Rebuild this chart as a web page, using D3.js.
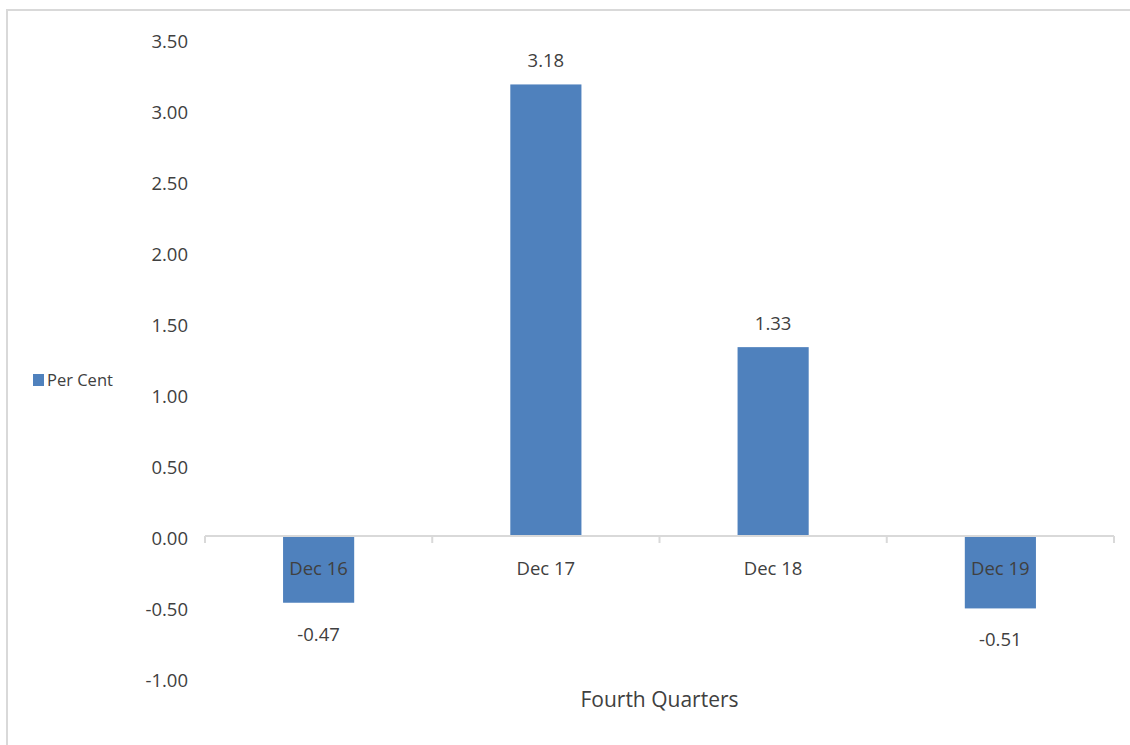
<!DOCTYPE html>
<html>
<head>
<meta charset="utf-8">
<script src="https://cdn.jsdelivr.net/npm/d3@7/dist/d3.min.js"></script>
<style>
  html, body { margin: 0; padding: 0; background: #fff; }
  svg { display: block; font-family: "Open Sans", sans-serif; }
  text { fill: #404040; }
</style>
</head>
<body>
<svg id="chart" width="1130" height="745"></svg>
<script>
const categories = ['Dec 16', 'Dec 17', 'Dec 18', 'Dec 19'];
const values = [-0.47, 3.18, 1.33, -0.51];
const yTicks = [-1, -0.5, 0, 0.5, 1, 1.5, 2, 2.5, 3, 3.5];
const seriesName = 'Per Cent';
const xTitle = 'Fourth Quarters';

const barColor = '#4f81bd';
const svg = d3.select('#chart');

// plain hyphen for negatives, like the source
const fmt = d3.formatLocale({ decimal: '.', thousands: ',', grouping: [3], currency: ['', ''], minus: '-' }).format('.2f');

// chart frame, runs past the right and bottom edges like the source image
svg.append('rect')
  .attr('x', 7).attr('y', 10)
  .attr('width', 1200).attr('height', 800)
  .attr('fill', 'none')
  .attr('stroke', '#d9d9d9')
  .attr('stroke-width', 2);

const plot = { left: 205, right: 1114 };

const x = d3.scaleBand()
  .domain(categories)
  .range([plot.left, plot.right])
  .paddingInner(0.687)
  .paddingOuter(0.687 / 2);

const y = d3.scaleLinear()
  .domain([-1, 3.5])
  .range([678, 39]);

// y tick labels (no axis line, no tick marks)
const yAxis = svg.append('g')
  .attr('transform', `translate(${plot.left - 17},3)`)
  .call(d3.axisLeft(y).tickValues(yTicks).tickFormat(fmt).tickSize(0).tickPadding(0));
yAxis.select('.domain').remove();
yAxis.selectAll('text')
  .attr('font-size', 18.5)
  .attr('font-family', '"Open Sans", sans-serif')
  .attr('fill', '#404040');

// bars
svg.append('g')
  .selectAll('rect')
  .data(values)
  .enter()
  .append('rect')
  .attr('x', (d, i) => x(categories[i]))
  .attr('y', d => y(Math.max(0, d)))
  .attr('width', x.bandwidth())
  .attr('height', d => Math.abs(y(d) - y(0)))
  .attr('fill', barColor);

// x axis line at zero with tick marks between categories
const step = x.step();
const boundaries = d3.range(categories.length + 1).map(i => plot.left + i * step);
svg.append('line')
  .attr('x1', plot.left).attr('x2', plot.right)
  .attr('y1', y(0)).attr('y2', y(0))
  .attr('stroke', '#d9d9d9').attr('stroke-width', 2);
svg.append('g')
  .selectAll('line')
  .data(boundaries)
  .enter()
  .append('line')
  .attr('x1', d => d).attr('x2', d => d)
  .attr('y1', y(0)).attr('y2', y(0) + 7)
  .attr('stroke', '#d9d9d9').attr('stroke-width', 2);

// category labels just under the zero line
svg.append('g')
  .selectAll('text')
  .data(categories)
  .enter()
  .append('text')
  .attr('x', d => x(d) + x.bandwidth() / 2)
  .attr('y', y(0) + 39)
  .attr('text-anchor', 'middle')
  .attr('font-size', 18.5)
  .text(d => d);

// data labels
svg.append('g')
  .selectAll('text')
  .data(values)
  .enter()
  .append('text')
  .attr('x', (d, i) => x(categories[i]) + x.bandwidth() / 2)
  .attr('y', d => d >= 0 ? y(d) - 17 : y(d) + 38)
  .attr('text-anchor', 'middle')
  .attr('font-size', 18.5)
  .text(d => fmt(d));

// legend
svg.append('rect')
  .attr('x', 33).attr('y', 374)
  .attr('width', 11).attr('height', 12)
  .attr('fill', barColor);
svg.append('text')
  .attr('x', 47).attr('y', 386)
  .attr('font-size', 16.5)
  .text(seriesName);

// x axis title
svg.append('text')
  .attr('x', (plot.left + plot.right) / 2)
  .attr('y', 707)
  .attr('text-anchor', 'middle')
  .attr('font-size', 21)
  .text(xTitle);
</script>
</body>
</html>
